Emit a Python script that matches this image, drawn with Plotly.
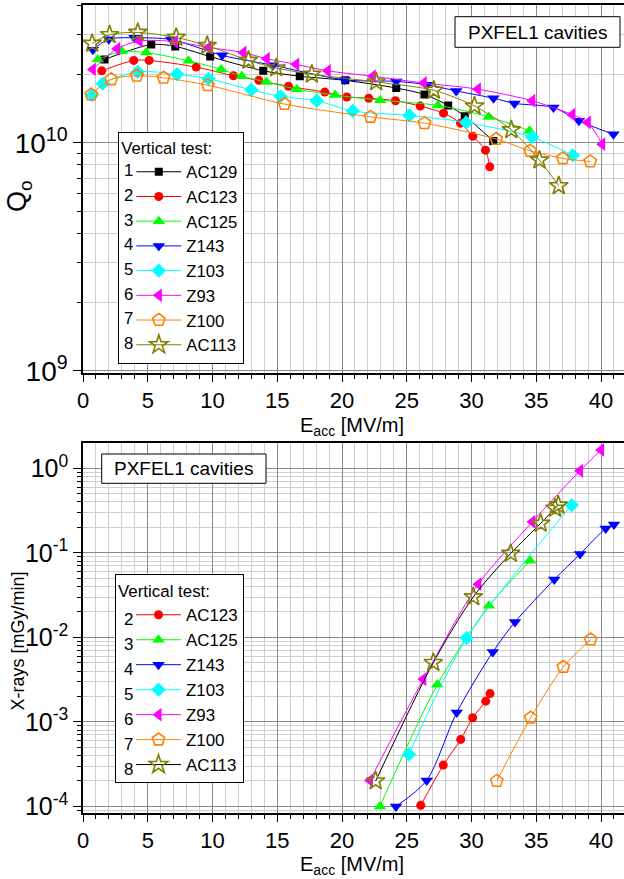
import plotly.graph_objects as go

# ---------------- data: Q0 vs Eacc (top) ----------------
series_names = ["AC129", "AC123", "AC125", "Z143", "Z103", "Z93", "Z100", "AC113"]
series_nums = ["1", "2", "3", "4", "5", "6", "7", "8"]

q_ac129_e = [1.66, 5.27, 7.12, 9.82, 13.92, 16.74, 20.25, 24.19, 26.37, 28.20, 29.48, 31.68]
q_ac129_q = [2.32e10, 2.70e10, 2.65e10, 2.39e10, 2.07e10, 1.96e10, 1.88e10, 1.74e10, 1.63e10, 1.46e10, 1.31e10, 1.02e10]

q_ac123_e = [1.45, 3.92, 5.11, 8.74, 11.62, 13.58, 15.87, 18.67, 20.37, 22.07, 24.13, 26.04, 27.84, 29.15, 30.10, 31.08, 31.41]
q_ac123_q = [2.07e10, 2.30e10, 2.30e10, 2.15e10, 1.97e10, 1.88e10, 1.77e10, 1.67e10, 1.59e10, 1.57e10, 1.53e10, 1.45e10, 1.35e10, 1.22e10, 1.07e10, 9.29e9, 7.85e9]

q_ac125_e = [1.14, 3.00, 4.88, 8.15, 10.67, 12.26, 14.17, 16.51, 19.47, 22.95, 27.40, 31.34, 34.48]
q_ac125_q = [2.32e10, 2.52e10, 2.49e10, 2.29e10, 2.10e10, 1.96e10, 1.85e10, 1.72e10, 1.62e10, 1.54e10, 1.46e10, 1.30e10, 1.13e10]

q_z143_e = [0.76, 1.99, 3.98, 6.81, 10.75, 14.66, 20.19, 24.19, 26.55, 28.82, 31.70, 33.32, 36.33, 38.29, 40.96]
q_z143_q = [2.56e10, 2.85e10, 2.89e10, 2.84e10, 2.42e10, 2.19e10, 1.89e10, 1.86e10, 1.80e10, 1.69e10, 1.57e10, 1.49e10, 1.43e10, 1.25e10, 1.09e10]

q_z103_e = [0.70, 1.53, 4.23, 7.27, 9.69, 12.99, 15.25, 18.05, 20.83, 25.21, 29.59, 34.69, 37.82]
q_z103_q = [1.62e10, 1.82e10, 2.05e10, 2.00e10, 1.91e10, 1.71e10, 1.60e10, 1.53e10, 1.38e10, 1.32e10, 1.23e10, 1.06e10, 8.81e9]

q_z93_e = [0.76, 2.64, 4.36, 7.10, 9.70, 12.39, 14.19, 16.46, 18.90, 22.38, 26.32, 30.49, 34.69, 37.78, 38.98, 40.09]
q_z93_q = [2.10e10, 2.59e10, 2.80e10, 2.78e10, 2.62e10, 2.49e10, 2.34e10, 2.21e10, 2.07e10, 1.96e10, 1.83e10, 1.72e10, 1.53e10, 1.33e10, 1.23e10, 9.87e9]

q_z100_e = [0.63, 2.18, 4.15, 6.22, 9.64, 15.56, 22.20, 26.37, 31.91, 34.53, 37.05, 39.17]
q_z100_q = [1.63e10, 1.90e10, 1.97e10, 1.93e10, 1.79e10, 1.48e10, 1.30e10, 1.22e10, 1.04e10, 9.23e9, 8.55e9, 8.29e9]

q_ac113_e = [0.71, 2.05, 4.23, 7.20, 9.59, 12.78, 14.92, 17.67, 22.64, 27.09, 30.23, 33.07, 35.25, 36.74]
q_ac113_q = [2.73e10, 2.98e10, 3.05e10, 2.90e10, 2.67e10, 2.30e10, 2.13e10, 2.00e10, 1.85e10, 1.70e10, 1.45e10, 1.14e10, 8.40e9, 6.48e9]

# ---------------- data: X-rays vs Eacc (bottom) ----------------
x_ac123_e = [26.08, 27.82, 29.17, 30.09, 31.10, 31.43]
x_ac123_d = [1.03e-4, 3.08e-4, 6.2e-4, 1.12e-3, 1.76e-3, 2.16e-3]

x_ac125_e = [22.93, 27.36, 31.35, 34.52]
x_ac125_d = [1.0e-4, 2.76e-3, 2.36e-2, 8.04e-2]

x_z143_e = [24.17, 26.54, 28.86, 31.64, 33.36, 36.39, 38.38, 40.36, 41.00]
x_z143_d = [1.0e-4, 2.03e-4, 1.29e-3, 6.7e-3, 1.52e-2, 4.83e-2, 9.66e-2, 0.194, 0.217]

x_z103_e = [25.17, 29.63, 37.74]
x_z103_d = [4.12e-4, 9.84e-3, 0.367]

x_z93_e = [22.16, 26.28, 30.53, 34.70, 38.38, 40.00]
x_z93_d = [2.03e-4, 3.19e-3, 4.26e-2, 0.233, 0.937, 1.65]

x_z100_e = [31.95, 34.57, 37.09, 39.20]
x_z100_d = [2.0e-4, 1.12e-3, 4.46e-3, 9.42e-3]

x_ac113_e = [22.60, 27.05, 30.14, 33.03, 35.34, 36.45, 36.70]
x_ac113_d = [2.0e-4, 5.03e-3, 3.01e-2, 9.84e-2, 0.223, 0.336, 0.367]

x_tick_vals = [0, 5, 10, 15, 20, 25, 30, 35, 40]
top_y_ticks = [1e9, 1e10]
top_y_ticktext = ["10<sup>9</sup>", "10<sup>10</sup>"]
bot_y_ticks = [1e-4, 1e-3, 1e-2, 1e-1, 1]
bot_y_ticktext = ["10<sup>-4</sup>", "10<sup>-3</sup>", "10<sup>-2</sup>", "10<sup>-1</sup>", "10<sup>0</sup>"]

# ---------------- styles ----------------
FONT = "Liberation Sans, Arial, sans-serif"
NARROW = "Liberation Sans Narrow, Arial Narrow, Liberation Sans, Arial, sans-serif"

styles = {
    "AC129": dict(color="#000000", symbol="square", size=8),
    "AC123": dict(color="#FF0000", symbol="circle", size=9),
    "AC125": dict(color="#00FF00", symbol="triangle-up", size=11),
    "Z143": dict(color="#0000FF", symbol="triangle-down", size=11),
    "Z103": dict(color="#00FFFF", symbol="diamond", size=11),
    "Z93": dict(color="#FF00FF", symbol="triangle-left", size=12),
    "Z100": dict(color="#FF8000", symbol="pentagon-open", size=13),
    "AC113": dict(color="#808000", symbol="star-open", size=14),
}

W, H = 624, 879
ML, MR, MT, MB = 83, 0, 5, 66
PW, PH = W - ML - MR, H - MT - MB


def xp(px):
    return (px - ML) / PW


def yp(py):
    return (H - MB - py) / PH


fig = go.Figure()

top_series = [
    ("AC129", q_ac129_e, q_ac129_q),
    ("AC123", q_ac123_e, q_ac123_q),
    ("AC125", q_ac125_e, q_ac125_q),
    ("Z143", q_z143_e, q_z143_q),
    ("Z103", q_z103_e, q_z103_q),
    ("Z93", q_z93_e, q_z93_q),
    ("Z100", q_z100_e, q_z100_q),
    ("AC113", q_ac113_e, q_ac113_q),
]
for name, e, q in top_series:
    st = styles[name]
    open_sym = st["symbol"].endswith("open")
    fig.add_trace(go.Scatter(
        x=e, y=q, name=name, mode="lines+markers", xaxis="x", yaxis="y",
        line=dict(color=st["color"], width=1, shape="spline", smoothing=0.8),
        marker=dict(symbol=st["symbol"], size=st["size"], color=st["color"],
                    line=dict(color=st["color"], width=1.6 if open_sym else 0)),
        legend="legend",
    ))

bot_series = [
    ("AC123", x_ac123_e, x_ac123_d, None),
    ("AC125", x_ac125_e, x_ac125_d, None),
    ("Z143", x_z143_e, x_z143_d, None),
    ("Z103", x_z103_e, x_z103_d, None),
    ("Z93", x_z93_e, x_z93_d, None),
    ("Z100", x_z100_e, x_z100_d, None),
    ("AC113", x_ac113_e, x_ac113_d, "#000000"),
]
for name, e, d, lc in bot_series:
    st = styles[name]
    open_sym = st["symbol"].endswith("open")
    fig.add_trace(go.Scatter(
        x=e, y=d, name=name, mode="lines+markers", xaxis="x2", yaxis="y2",
        line=dict(color=lc or st["color"], width=1, shape="spline", smoothing=0.8),
        marker=dict(symbol=st["symbol"], size=st["size"], color=st["color"],
                    line=dict(color=st["color"], width=1.6 if open_sym else 0)),
        legend="legend2",
    ))

MAJ_GRID = "#8a8a8a"
MIN_GRID = "#cfcfcf"


def xaxis_cfg(anchor, domain_anchor=None):
    return dict(
        type="linear", range=[0, (W - ML) / 12.95], anchor=anchor,
        tickmode="array", tickvals=x_tick_vals,
        ticks="outside", ticklen=7, tickwidth=1.2, tickcolor="black",
        showline=True, linecolor="black", linewidth=1.5, mirror=True,
        showgrid=True, gridcolor=MAJ_GRID, gridwidth=1,
        tickfont=dict(family=FONT, size=22, color="black"),
        minor=dict(dtick=1, ticks="outside", ticklen=4, tickcolor="black",
                   showgrid=True, gridcolor=MIN_GRID, gridwidth=1),
        zeroline=False,
    )


def log_minor(lo_dec, hi_dec):
    vals = []
    for d in range(lo_dec, hi_dec + 1):
        for m in range(2, 10):
            vals.append(m * 10.0 ** d)
    return vals


top_x = xaxis_cfg("y")
top_x["domain"] = [0, 1]
bot_x = xaxis_cfg("y2")

fig.update_layout(
    width=W, height=H,
    margin=dict(l=ML, r=MR, t=MT, b=MB, pad=0),
    paper_bgcolor="white", plot_bgcolor="white",
    font=dict(family=FONT, color="black"),
    xaxis=top_x,
    yaxis=dict(
        type="log", range=[8.9895, 10.6047], domain=[yp(373.3), 1.0], anchor="x",
        tickmode="array", tickvals=top_y_ticks, ticktext=top_y_ticktext,
        ticks="outside", ticklen=8, tickwidth=1.2, tickcolor="black",
        showline=True, linecolor="black", linewidth=1.5,
        showgrid=True, gridcolor=MAJ_GRID,
        tickfont=dict(family=FONT, size=28, color="black"),
        minor=dict(tickmode="array", tickvals=log_minor(9, 10), ticks="outside", ticklen=4,
                   tickcolor="black", showgrid=True, gridcolor=MIN_GRID),
        zeroline=False,
    ),
    xaxis2=bot_x,
    yaxis2=dict(
        type="log", range=[-4.078, 0.296], domain=[0, yp(443.3)], anchor="x2",
        tickmode="array", tickvals=bot_y_ticks, ticktext=bot_y_ticktext,
        ticks="outside", ticklen=8, tickwidth=1.2, tickcolor="black",
        showline=True, linecolor="black", linewidth=1.5,
        showgrid=True, gridcolor=MAJ_GRID,
        tickfont=dict(family=FONT, size=25, color="black"),
        minor=dict(tickmode="array", tickvals=log_minor(-5, 0), ticks="outside", ticklen=4,
                   tickcolor="black", showgrid=True, gridcolor=MIN_GRID),
        zeroline=False,
    ),
    legend=dict(
        x=xp(118.3), y=yp(131.7), xanchor="left", yanchor="top",
        bgcolor="white", bordercolor="black", borderwidth=1,
        font=dict(family=NARROW, size=16.7, color="black"),
        title=dict(text="Vertical test:", font=dict(family=NARROW, size=16.7, color="black")),
        itemwidth=45, indentation=12, tracegroupgap=0,
    ),
    legend2=dict(
        x=xp(115), y=yp(574.3), xanchor="left", yanchor="top",
        bgcolor="white", bordercolor="black", borderwidth=1,
        font=dict(family=NARROW, size=16.9, color="black"),
        title=dict(text="Vertical test:", font=dict(family=NARROW, size=16.9, color="black")),
        itemwidth=45, indentation=15, tracegroupgap=0,
    ),
    showlegend=True,
)

annotations = []
shapes = []
# axis titles
annotations.append(dict(text="Q<sub>o</sub>", x=xp(19), y=yp(196), xref="paper", yref="paper",
                        showarrow=False, textangle=-90, font=dict(family=FONT, size=27),
                        xanchor="center", yanchor="middle"))
annotations.append(dict(text="X-rays [mGy/min]", x=xp(17), y=yp(641.5), xref="paper", yref="paper",
                        showarrow=False, textangle=-90, font=dict(family=FONT, size=18),
                        xanchor="center", yanchor="middle"))
for cy in (426, 865):
    annotations.append(dict(text="E<sub>acc</sub> [MV/m]", x=xp(352), y=yp(cy), xref="paper", yref="paper",
                            showarrow=False, font=dict(family=FONT, size=20),
                            xanchor="center", yanchor="middle"))
# "PXFEL1 cavities" boxes
for (x0, y0, x1, y1) in [(455, 16.7, 620, 47.3), (101.7, 454, 266, 483.3)]:
    shapes.append(dict(type="rect", xref="paper", yref="paper", x0=xp(x0), x1=xp(x1), y0=yp(y0), y1=yp(y1),
                       line=dict(color="black", width=1), fillcolor="white", layer="above"))
    annotations.append(dict(text="PXFEL1 cavities", x=xp((x0 + x1) / 2), y=yp((y0 + y1) / 2),
                            xref="paper", yref="paper", showarrow=False,
                            font=dict(family=FONT, size=19), xanchor="center", yanchor="middle"))
# legend numbers
for i, n in enumerate(series_nums):
    annotations.append(dict(text=n, x=xp(128.3), y=yp(170.7 + 24.7 * i), xref="paper", yref="paper",
                            showarrow=False, font=dict(family=NARROW, size=16.7),
                            xanchor="center", yanchor="middle"))
for i, n in enumerate(series_nums[1:]):
    annotations.append(dict(text=n, x=xp(128.3), y=yp(619 + 25 * i), xref="paper", yref="paper",
                            showarrow=False, font=dict(family=NARROW, size=16.9),
                            xanchor="center", yanchor="middle"))

fig.update_layout(annotations=annotations, shapes=shapes)
fig.write_html("out.html")
